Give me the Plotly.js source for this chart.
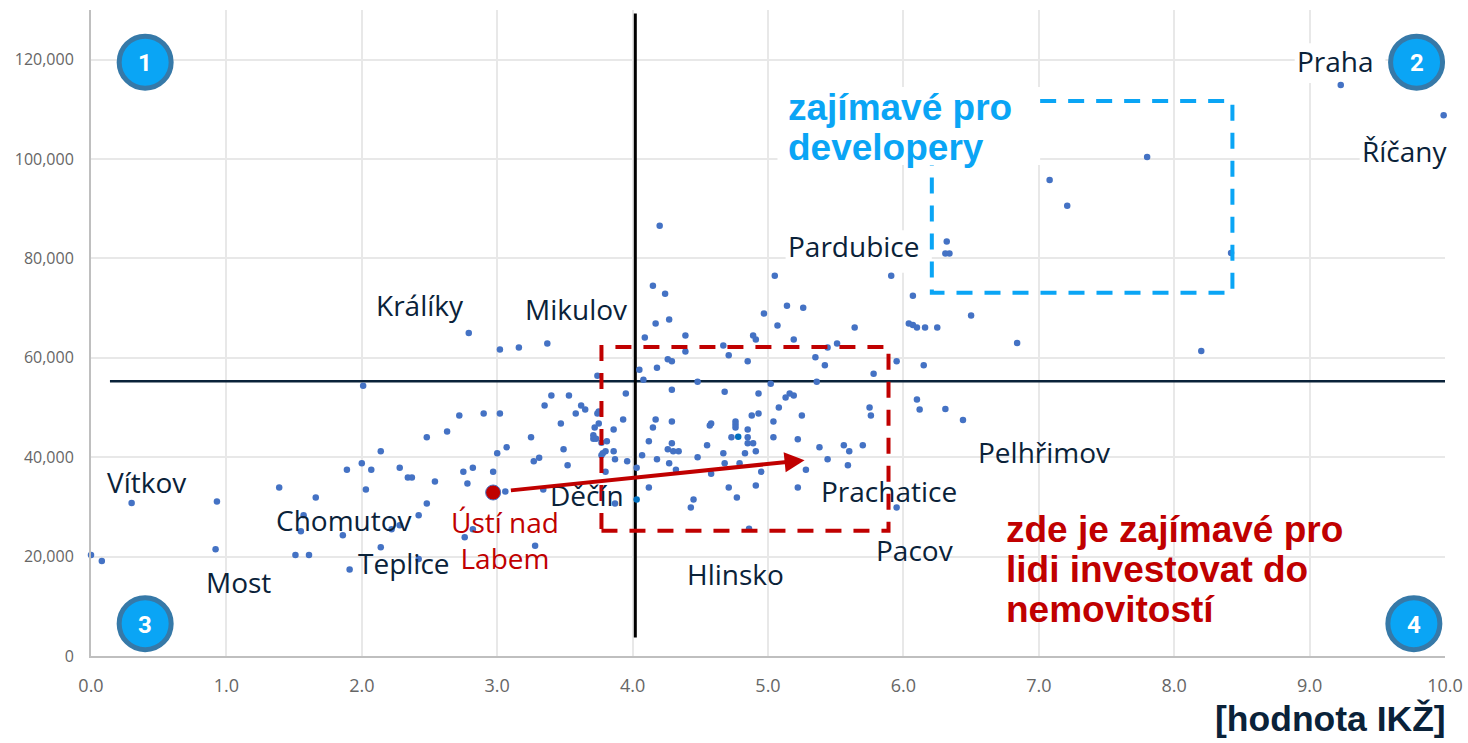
<!DOCTYPE html>
<html><head><meta charset="utf-8">
<script src="https://cdn.plot.ly/plotly-3.0.1.min.js"></script>
<style>html,body{margin:0;padding:0;background:#fff}#c{width:1468px;height:743px}</style></head>
<body><div id="c"></div>
<script>
const dotX = [0.0,0.08,0.30,0.93,0.92,1.39,1.66,1.57,1.55,1.51,1.61,1.86,1.89,2.0,2.07,2.03,2.01,2.14,2.28,2.34,2.37,2.54,2.48,2.63,2.72,2.90,3.02,3.0,2.75,2.82,2.97,2.78,2.48,2.42,2.28,2.22,2.14,2.42,1.91,2.76,2.82,3.28,
3.02,3.16,3.37,4.39,4.26,4.29,4.18,4.05,3.74,4.08,4.48,4.29,3.95,3.40,3.53,3.35,3.62,3.65,3.58,3.74,3.75,3.93,4.17,4.29,4.58,4.57,3.47,3.75,3.72,4.15,3.86,3.71,3.71,3.73,3.25,3.77,3.81,4.12,4.29,4.55,3.49,3.07,3.86,3.80,3.78,3.77,4.26,4.30,4.34,4.07,3.87,3.96,4.18,4.48,3.31,3.27,4.27,3.52,4.03,4.32,4.58,3.80,4.12,3.06,3.34,4.45,4.43,3.87,
4.67,4.71,4.85,5.44,5.51,5.35,5.42,5.95,6.15,5.78,5.02,5.36,4.68,4.93,5.16,5.13,5.19,5.08,6.10,6.12,5.75,5.76,4.88,4.93,5.25,5.04,4.76,4.76,4.76,4.85,4.73,4.85,5.04,5.22,4.85,4.89,4.91,4.83,4.67,5.38,5.56,5.60,5.70,5.44,5.59,5.28,4.68,4.79,4.95,4.71,4.91,5.22,4.77,5.95,4.86,
4.20,5.05,5.91,4.15,4.24,6.07,5.14,5.26,4.97,6.50,4.27,4.17,5.07,5.64,6.04,6.07,6.10,6.16,6.25,4.09,4.39,4.89,4.91,5.19,6.32,6.31,6.34,
9.23,9.99,7.80,7.08,7.21,8.42,8.20,6.84,6.31,6.44,2.79];
const dotY = [20300,19100,30800,31100,21500,33900,31900,28300,25100,20300,20300,24300,37500,38800,37500,33500,54400,41200,37900,35900,35900,35100,44000,45200,48400,48800,48800,40800,37100,37900,37100,34700,30700,28300,26300,25500,21900,19500,17400,23900,25500,22200,
61700,62100,62900,61300,59700,59300,58000,57600,56400,55600,55200,53600,52800,52400,52400,50400,50400,49600,48800,48800,49200,47600,47600,47200,46800,46400,46800,46800,46000,46000,45600,44400,43700,43700,44000,42900,43200,43200,42800,42400,41600,42000,41200,41200,40800,40400,41600,41200,41200,40400,39600,39200,39600,40000,39900,39200,38800,38400,37900,37500,36700,37100,33900,33100,33500,31500,29900,30700,
62500,60500,59300,62100,62900,60100,58500,59300,58500,56800,54800,55200,53200,52800,52800,52000,52400,50000,51600,49600,50000,48400,48400,48800,48400,47200,47200,46600,46000,45600,44000,44000,44000,43600,42800,42800,41200,40800,40800,42000,42400,41200,42400,39600,38400,37500,38800,38800,37100,33900,34300,33900,31900,29900,25600,
86600,76500,76500,74500,72900,72500,70500,70100,68900,68500,67700,66900,66500,66100,66900,66600,66100,66100,66100,64100,64500,64500,63700,63700,83400,81000,81000,
114900,108800,100400,95800,90600,81100,61400,63000,49700,47500,65000];
const accentX = [4.78,4.03];
const accentY = [44100,31500];
const cityX = [2.97];
const cityY = [32900];
const badgeX = [0.40,9.79,0.40,9.77];
const badgeY = [119500,119500,6500,6500];
const badgeText = ['1','2','3','4'];
const labelText = ['Praha','Říčany','Pardubice','Králíky','Mikulov','Vítkov','Chomutov','Teplice','Most','Děčín','Hlinsko','Pacov','Prachatice','Pelhřimov'];
const labelX = [9.19,9.70,5.63,2.43,3.58,0.41,1.87,2.31,1.09,3.66,4.76,6.08,5.89,7.04];
const labelY = [119700,101600,82500,70700,69800,35100,27400,18800,14800,32300,16600,21400,33300,41100];
const devLines = ['zajímavé pro','developery'];
const devY = [110400,102400];
const peopleLines = ['zde je zajímavé pro','lidi investovat do','nemovitostí'];
const peopleY = [25400,17400,9400];
const xTicks = [0,1,2,3,4,5,6,7,8,9,10];
const yTicks = [0,20000,40000,60000,80000,100000,120000];
const navy = '#0A2239', red = '#C00000', sky = '#0AA5F5';
const face = '"Open Sans", Lato, sans-serif', bold = '"Liberation Sans", Arial, sans-serif';

const mask = (x0,x1,y0,y1)=>({type:'rect',layer:'between',xref:'x',yref:'y',x0,x1,y0,y1,fillcolor:'#fff',line:{width:0}});
const shapes = [
  mask(8.89,9.56,115300,123300),
  mask(9.37,10.01,97200,105200),
  mask(5.07,7.01,98800,114500),
  mask(5.13,6.21,77100,85700),
  {type:'line',layer:'between',x0:0.14,x1:10,y0:55300,y1:55300,line:{color:navy,width:2.5}},
  {type:'line',layer:'between',x0:4.02,x1:4.02,y0:3700,y1:129300,line:{color:'#000',width:3}},
  {type:'rect',layer:'above',x0:3.77,x1:5.89,y0:25200,y1:62200,line:{color:red,width:4,dash:'16px,12px'}},
  {type:'path',layer:'above',path:'M 7.01,111700 L 8.43,111700 L 8.43,73100 L 6.21,73100 L 6.21,98800',line:{color:sky,width:4,dash:'16px,12px'}}
];

const annotations = labelText.map((t,i)=>({x:labelX[i],y:labelY[i],text:t,showarrow:false,font:{family:face,size:28,color:navy}}));
devLines.forEach((t,i)=>annotations.push({x:5.13,xanchor:'left',y:devY[i],text:t,showarrow:false,font:{family:bold,size:37,color:sky,weight:700}}));
peopleLines.forEach((t,i)=>annotations.push({x:6.74,xanchor:'left',y:peopleY[i],text:t,showarrow:false,font:{family:bold,size:37,color:red,weight:700}}));
badgeText.forEach((t,i)=>annotations.push({x:badgeX[i],y:badgeY[i],xshift:0,yshift:-1,text:t,showarrow:false,font:{family:'Roboto, sans-serif',size:24,color:'#fff',weight:700}}));
annotations.push(
 {x:3.06,y:23400,text:'Ústí nad<br>Labem',showarrow:false,font:{family:face,size:28,color:red}},
 {xref:'paper',x:1,xanchor:'right',xshift:3,yref:'paper',y:0,yanchor:'middle',yshift:-63,text:'[hodnota IKŽ]',showarrow:false,font:{family:bold,size:35.5,color:navy,weight:700}},
 {x:5.27,y:39400,axref:'x',ayref:'y',ax:3.09,ay:33300,text:'',showarrow:true,arrowhead:2,arrowsize:1,arrowwidth:4,arrowcolor:red,standoff:0,startstandoff:0}
);

const axisBase = {showgrid:true,gridcolor:'#E8E8E8',gridwidth:2,zeroline:false,showline:true,linecolor:'#BFBFBF',linewidth:2,ticks:''};
Plotly.newPlot('c',[
 {type:'scatter',mode:'markers',x:dotX,y:dotY,cliponaxis:false,marker:{size:6.5,color:'#4472C4'},hoverinfo:'skip'},
 {type:'scatter',mode:'markers',x:accentX,y:accentY,marker:{size:6.5,color:'#0070C0'},hoverinfo:'skip'},
 {type:'scatter',mode:'markers',x:cityX,y:cityY,marker:{size:15,color:red,line:{color:'#4472C4',width:1}},hoverinfo:'skip'},
 {type:'scatter',mode:'markers',x:badgeX,y:badgeY,cliponaxis:false,marker:{size:52,color:sky,line:{color:'#3679A8',width:5}},hoverinfo:'skip'}
],{
 width:1468,height:743,showlegend:false,paper_bgcolor:'#fff',plot_bgcolor:'#fff',
 margin:{l:91,r:23,t:10,b:87},
 xaxis:Object.assign({},axisBase,{range:[0,10],tickvals:xTicks,tickformat:'.1f',ticklabelstandoff:12,tickfont:{family:face,size:18,color:'#666'}}),
 yaxis:Object.assign({},axisBase,{range:[0,130000],tickvals:yTicks,tickformat:',d',ticklabelstandoff:12,tickfont:{family:face,size:16,color:'#666'}}),
 shapes,annotations
},{displayModeBar:false,staticPlot:true});
</script></body></html>
